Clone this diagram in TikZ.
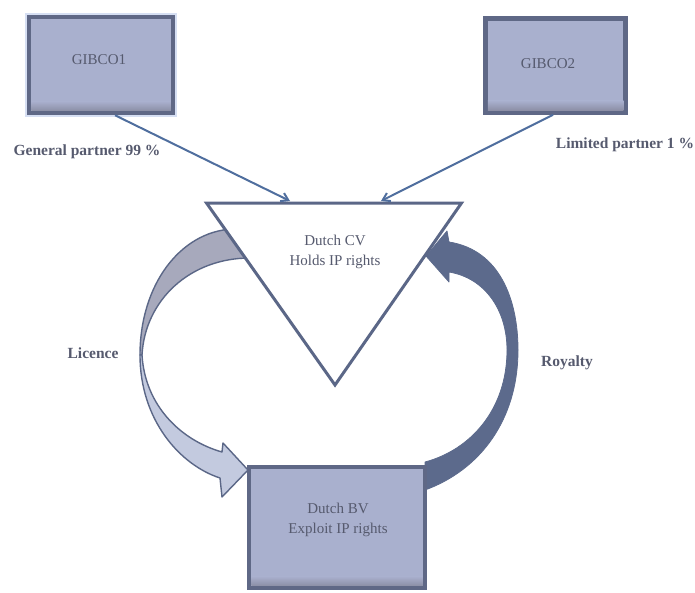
\documentclass[tikz,border=0pt]{standalone}
\usepackage{fontspec}
\setmainfont{Liberation Serif}
\usetikzlibrary{arrows.meta,calc}
\definecolor{boxfill}{HTML}{A9B0CE}
\definecolor{boxedge}{HTML}{5F6886}
\definecolor{boxshade}{HTML}{8C8FA6}
\definecolor{glow}{HTML}{D6DFF3}
\definecolor{linkc}{HTML}{4F6E9E}
\definecolor{txtc}{HTML}{565A6E}
\definecolor{licgray}{HTML}{A7A9BC}
\definecolor{licblue}{HTML}{C3CADF}
\definecolor{royc}{HTML}{5C6A8C}
\definecolor{shapeedge}{HTML}{5B6787}
\begin{document}
\begin{tikzpicture}[x=1pt,y=-1pt,
  box/.style={draw=boxedge, line width=4.5pt, fill=boxfill, inner sep=0pt},
  lbl/.style={text=txtc, font=\fontsize{15}{20}\selectfont, align=center, inner sep=0pt},
  blbl/.style={text=txtc, font=\bfseries\fontsize{15.5}{20}\selectfont, align=center, inner sep=0pt},
  link/.style={draw=linkc, line width=2pt, -{Straight Barb[length=7pt,width=9pt]}},
  ribbon/.style={draw=shapeedge, line width=1.4pt, line join=round}
  ]
\useasboundingbox (0,0) rectangle (695,592);

% Licence ribbon (behind triangle)
\path[ribbon, fill=licgray] (232,229) .. controls (180,232) and (140,285) .. (140,355)
  -- (142,355) .. controls (145,300) and (190,258) .. (250,258) -- cycle;
\path[ribbon, fill=licblue] (140,355) .. controls (140,420) and (180,465) .. (220,478)
  -- (222,497) -- (248,470) -- (223,443) -- (222,452)
  .. controls (180,440) and (145,405) .. (142,355) -- cycle;

% Royalty ribbon
\path[fill=royc, draw=royc, line width=0.8pt, line join=round]
  (426,256) -- (447,231) -- (449,242)
  .. controls (500,250) and (518,300) .. (518,350)
  .. controls (518,420) and (480,470) .. (425,490)
  -- (425,462)
  .. controls (470,450) and (507,410) .. (507,350)
  .. controls (507,310) and (485,278) .. (449,272)
  -- (449,282) -- cycle;

% Triangle (Dutch CV)
\coordinate (tl) at (206.5,203);
\coordinate (tr) at (461.5,203);
\coordinate (bt) at (335,385);
\filldraw[fill=white, draw=shapeedge, line width=3pt, line join=miter] (tl) -- (tr) -- (bt) -- cycle;

% Boxes
\draw[glow, line width=8pt] (29,17) rectangle (173,113);
\node[box, minimum width=144pt, minimum height=96pt] (g1) at (101,65) {};
\node[box, minimum width=140pt, minimum height=94pt] (g2) at (555.5,65.5) {};
\node[box, minimum width=176pt, minimum height=121pt] (bv) at (337,527.5) {};
\foreach \b in {g1,g2,bv}{
  \shade[top color=boxfill, bottom color=boxshade]
    ($(\b.south east)+(-4.5,-14)$) rectangle ($(\b.south west)+(4.5,-4.5)$);
}

% Connectors
\coordinate (cvL) at (290,201);
\coordinate (cvR) at (381,201);
\draw[link] ($(g1.south)+(14,0)$) -- (cvL);
\draw[link] ($(g2.south)+(-2.5,0)$) -- (cvR);

% Texts
\node[lbl] (g1t) at (99,60) {GIBCO1};
\node[lbl] (g2t) at (548,64) {GIBCO2};
\node[blbl] (gp) at (87,152) {General partner 99 \%};
\node[blbl] (lp) at (625,145) {Limited partner 1 \%};
\node[blbl] (lic) at (93,353) {Licence};
\node[blbl] (roy) at (567,363) {Royalty};
\node[lbl] (cvt) at (335,252) {Dutch CV\\Holds IP rights};
\node[lbl] (bvt) at (338,519.5) {Dutch BV\\Exploit IP rights};
\end{tikzpicture}
\end{document}
